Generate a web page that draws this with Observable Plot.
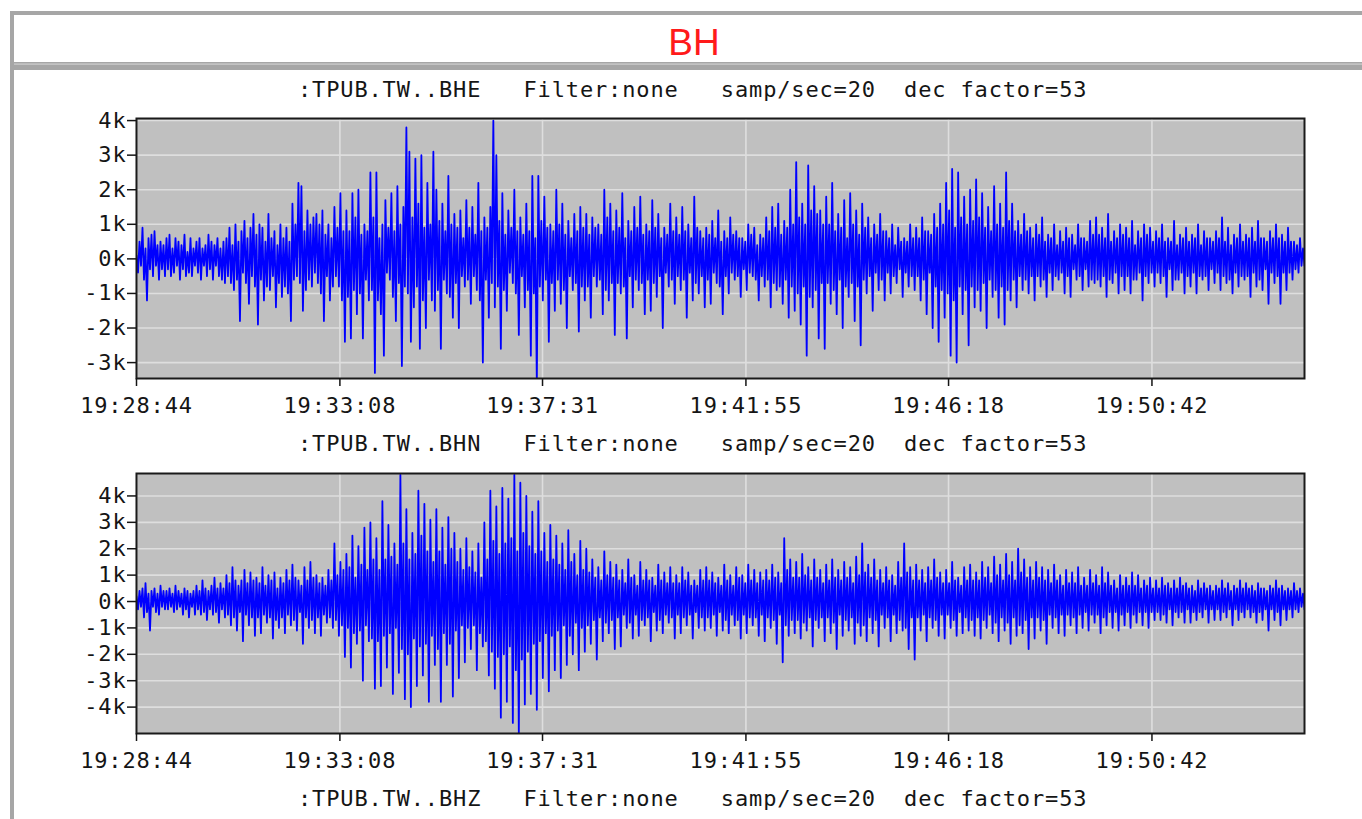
<!DOCTYPE html>
<html><head><meta charset="utf-8">
<script src="https://cdn.jsdelivr.net/npm/d3@7"></script>
<script src="https://cdn.jsdelivr.net/npm/@observablehq/plot@0.6"></script>
<style>
html,body{margin:0;padding:0;background:#fff;}
#page{position:relative;width:1362px;height:819px;overflow:hidden;background:#fff;}
#page svg{position:absolute;left:0;}
.mono{font-family:'DejaVu Sans Mono',monospace;font-size:22px;letter-spacing:0.85px;white-space:pre;fill:#151515;}
</style></head><body><div id="page"></div>
<script>
// ---- data ----
const title = "BH";
const channels = [":TPUB.TW..BHE", ":TPUB.TW..BHN", ":TPUB.TW..BHZ"];
const headerInfo = "   Filter:none   samp/sec=20  dec factor=53";
const startTime = "19:28:44";
const endTime = "19:54:00";
const timeTickLabels = ["19:28:44", "19:33:08", "19:37:31", "19:41:55", "19:46:18", "19:50:42"];
const bheTicks = [-3, -2, -1, 0, 1, 2, 3, 4];
const bhnTicks = [-4, -3, -2, -1, 0, 1, 2, 3, 4];
const bheDomain = [-3.46, 4.06];
const bhnDomain = [-5.0, 4.85];

// amplitudes in thousands of counts, evenly spaced in time
const bheValues = [
  0.1,-0.4,0.5,-0.2,0.9,-0.6,0.3,-1.2,0.6,-0.3, 0.7,-0.5,0.8,-0.2,0.4,-0.6,0.5,-0.3,0.4,-0.5,
  0.6,-0.3,0.7,-0.5,0.3,-0.4,0.6,-0.2,0.5,-0.6, 0.4,-0.3,0.7,-0.5,0.2,-0.4,0.6,-0.5,0.3,-0.2,
  0.5,-0.4,0.6,-0.6,0.3,-0.2,0.4,-0.5,0.7,-0.3, 0.5,-0.6,0.4,-0.2,0.6,-0.5,0.3,-0.6,0.5,-0.7,
  0.6,-0.5,0.9,-0.7,0.4,-0.9,1.0,-0.6,0.5,-1.8, 0.8,-0.4,1.1,-0.7,0.6,-1.3,0.9,-0.5,1.3,-0.8,
  0.7,-1.9,1.0,-0.6,0.9,-1.2,0.5,-0.8,1.3,-0.9, 0.6,-0.5,0.8,-1.4,0.4,-0.7,1.0,-1.1,0.6,-0.8,
  0.9,-1.0,0.5,-1.8,1.6,-0.6,1.0,-0.5,2.2,-0.7, 2.1,-1.5,0.8,-0.9,1.4,-0.6,1.0,-0.8,1.2,-0.4,
  1.3,-0.7,1.0,-1.0,1.4,-1.8,0.7,-0.5,1.0,-1.2, 0.6,-0.8,1.5,-0.5,0.9,-0.8,1.9,-1.2,0.8,-2.4,
  1.4,-1.1,0.8,-2.3,1.9,-0.9,1.2,-1.6,2.0,-1.0, 0.7,-2.3,1.0,-0.6,0.8,-1.2,2.5,-0.9,1.2,-3.3,
  2.5,-1.2,0.6,-1.6,1.0,-2.8,1.7,-0.4,0.9,-0.6, 1.9,-1.1,0.8,-1.8,2.1,-0.7,1.0,-3.1,1.5,-0.8,
  3.8,-1.0,3.1,-2.4,1.2,-1.4,2.9,-0.8,1.6,-2.6, 3.0,-1.2,0.9,-2.0,2.2,-0.6,1.0,-1.2,3.1,-1.5,
  2.0,-0.9,1.1,-2.6,1.6,-0.6,0.8,-1.0,2.4,-1.1, 1.0,-1.7,1.3,-0.7,0.9,-2.0,1.4,-0.5,0.6,-0.8,
  1.7,-0.6,0.9,-1.3,1.5,-0.5,0.7,-0.9,2.2,-1.2, 0.8,-3.0,1.2,-0.6,0.9,-1.7,1.5,-0.7,4.0,-1.4,
  3.0,-0.8,1.1,-2.6,1.9,-0.9,0.7,-1.5,1.4,-0.4, 0.9,-0.7,2.0,-1.0,0.8,-2.2,1.2,-0.5,0.7,-1.4,
  1.6,-0.9,0.8,-2.8,2.4,-1.0,0.6,-3.6,2.4,-0.8, 1.1,-1.2,1.8,-0.6,0.9,-2.4,1.0,-0.7,0.8,-1.5,
  2.0,-0.6,1.0,-1.3,1.6,-0.9,0.7,-2.0,1.1,-0.5, 0.6,-0.9,1.3,-0.7,0.8,-2.1,1.5,-0.8,0.9,-1.2,
  1.3,-0.8,0.7,-1.7,1.2,-0.5,0.9,-0.8,1.0,-0.6, 0.7,-1.6,2.0,-0.9,1.2,-1.2,1.6,-0.7,0.8,-2.2,
  1.4,-0.7,0.9,-1.0,1.9,-0.8,0.6,-2.3,1.1,-0.5, 0.8,-1.4,1.5,-0.6,0.9,-0.9,1.8,-0.7,0.7,-1.6,
  1.0,-0.6,0.8,-1.5,1.7,-0.7,0.9,-1.1,1.3,-0.5, 0.6,-2.0,0.9,-0.4,0.7,-0.8,1.6,-0.6,0.8,-1.3,
  1.2,-0.5,0.7,-0.9,1.5,-0.6,0.8,-1.7,1.0,-0.4, 0.6,-1.2,1.8,-0.7,0.9,-1.0,0.8,-0.5,0.6,-1.4,
  0.9,-0.6,0.7,-1.3,1.1,-0.4,0.6,-0.7,1.4,-0.8, 0.5,-1.6,0.8,-0.5,0.6,-1.0,1.2,-0.4,0.7,-0.6,
  0.8,-0.5,0.6,-1.1,0.6,-0.3,0.5,-0.9,1.0,-0.4, 0.7,-0.5,0.9,-0.6,0.4,-1.2,0.7,-0.5,0.6,-0.8,
  1.2,-0.6,0.8,-1.4,1.5,-0.7,0.9,-0.9,1.6,-0.8, 0.7,-1.3,1.1,-0.6,0.9,-1.7,2.0,-0.8,1.0,-1.5,
  2.8,-1.0,1.2,-1.9,1.6,-0.8,1.0,-2.8,2.7,-1.1, 1.4,-1.4,2.1,-0.9,1.3,-2.3,1.4,-0.7,1.0,-2.6,
  1.8,-0.7,1.0,-1.3,2.2,-0.9,0.8,-1.6,1.3,-0.6, 0.9,-2.0,1.7,-0.8,0.6,-1.1,1.9,-0.7,1.0,-1.8,
  1.4,-0.8,0.7,-2.5,1.6,-0.6,0.9,-1.0,1.2,-0.5, 0.6,-1.5,1.0,-0.4,0.7,-0.9,1.3,-0.6,0.8,-1.2,
  0.8,-0.4,0.6,-1.0,1.0,-0.5,0.4,-0.7,0.9,-0.3, 0.5,-1.1,0.6,-0.4,0.5,-0.8,1.0,-0.5,0.6,-0.9,
  0.9,-0.5,0.6,-1.2,1.2,-0.6,0.8,-1.6,0.8,-0.4, 0.7,-2.0,1.3,-0.8,0.9,-2.4,1.6,-0.9,1.0,-1.7,
  2.2,-1.0,1.4,-2.8,2.6,-1.2,0.9,-3.0,2.5,-0.8, 1.2,-1.6,1.8,-0.9,1.0,-2.5,2.0,-0.8,1.1,-1.4,
  2.3,-0.9,1.2,-1.5,1.9,-0.7,0.9,-2.0,1.5,-0.6, 0.8,-1.1,2.1,-0.9,1.0,-1.7,1.6,-0.8,0.9,-1.9,
  2.5,-0.9,1.1,-1.2,1.6,-0.6,0.8,-1.4,1.1,-0.5, 0.7,-0.9,1.3,-0.6,0.8,-1.0,0.9,-0.5,0.6,-1.2,
  1.0,-0.5,0.7,-0.8,1.2,-0.6,0.5,-1.1,0.7,-0.4, 0.6,-0.9,1.0,-0.5,0.4,-0.6,0.8,-0.4,0.5,-1.0,
  0.9,-0.5,0.6,-1.1,0.7,-0.3,0.4,-0.6,1.0,-0.5, 0.6,-0.9,0.6,-0.3,0.5,-0.8,1.1,-0.6,0.7,-0.7,
  1.2,-0.6,0.7,-0.8,0.9,-0.5,0.6,-1.1,1.3,-0.6, 0.5,-0.7,0.8,-0.4,0.6,-1.0,1.0,-0.5,0.7,-0.9,
  0.9,-0.5,0.6,-1.0,1.1,-0.6,0.4,-0.6,0.8,-0.4, 0.6,-1.2,1.0,-0.5,0.7,-0.7,0.9,-0.4,0.5,-0.8,
  0.8,-0.4,0.6,-0.7,1.0,-0.5,0.5,-1.1,0.6,-0.3, 0.5,-0.9,1.1,-0.6,0.4,-0.6,0.7,-0.4,0.6,-1.0,
  0.9,-0.5,0.5,-0.8,0.7,-0.4,0.6,-1.0,1.0,-0.5, 0.4,-0.6,0.8,-0.5,0.6,-0.9,0.6,-0.3,0.5,-0.7,
  0.8,-0.4,0.6,-0.9,1.2,-0.5,0.5,-0.7,0.9,-0.6, 0.4,-1.0,0.7,-0.4,0.6,-0.8,1.0,-0.5,0.5,-0.6,
  0.7,-0.5,0.6,-1.1,0.9,-0.4,0.5,-0.8,1.1,-0.6, 0.6,-0.9,0.6,-0.3,0.5,-1.3,0.8,-0.4,0.6,-0.7,
  1.0,-0.5,0.6,-1.3,0.7,-0.4,0.5,-0.9,0.9,-0.4, 0.5,-0.6,0.5,-0.3,0.4,-0.4,0.6,-0.2,0.3,-0.2
];
const bhnValues = [
  0.2,-0.3,0.4,-0.2,0.5,-0.6,0.7,-0.4,0.3,-1.1, 0.4,-0.2,0.5,-0.4,0.3,-0.5,0.6,-0.2,0.4,-0.3,
  0.4,-0.3,0.5,-0.2,0.3,-0.4,0.6,-0.3,0.4,-0.2, 0.3,-0.5,0.5,-0.3,0.4,-0.6,0.3,-0.2,0.4,-0.5,
  0.6,-0.3,0.4,-0.5,0.8,-0.4,0.5,-0.7,0.4,-0.3, 0.6,-0.5,0.9,-0.4,0.5,-0.8,0.7,-0.3,0.5,-0.6,
  1.0,-0.5,0.7,-0.9,1.3,-0.6,0.8,-1.1,0.6,-0.4, 0.8,-1.5,1.2,-0.5,0.7,-0.9,1.1,-0.6,0.8,-1.3,
  0.9,-0.6,0.7,-1.2,1.3,-0.5,0.6,-0.8,1.0,-0.6, 0.8,-1.4,1.1,-0.7,0.5,-1.0,0.9,-0.6,0.7,-1.2,
  1.2,-0.5,0.8,-0.9,1.4,-0.7,0.9,-1.1,0.8,-0.4, 0.6,-1.6,1.3,-0.6,0.8,-1.0,1.5,-0.7,0.9,-1.2,
  1.0,-0.6,0.7,-1.3,0.9,-0.5,0.6,-0.8,1.2,-0.6, 0.8,-1.0,2.2,-0.7,1.0,-1.3,1.5,-0.9,1.2,-2.1,
  1.8,-1.0,1.3,-2.5,2.5,-1.2,0.9,-1.6,2.1,-1.1, 1.4,-3.0,2.8,-0.9,1.2,-1.5,3.0,-1.4,1.6,-3.3,
  2.4,-1.5,1.2,-3.2,3.8,-1.3,1.6,-2.5,2.9,-1.2, 1.7,-3.5,2.2,-1.0,1.4,-2.7,4.8,-1.8,2.2,-3.7,
  3.5,-2.0,1.6,-4.0,2.6,-1.4,1.8,-3.2,4.2,-1.7, 2.5,-2.8,3.7,-1.6,1.9,-3.8,3.1,-1.3,1.5,-2.4,
  3.5,-1.8,1.9,-3.8,2.8,-1.2,1.4,-2.4,3.2,-1.6, 2.0,-3.6,2.6,-1.1,1.5,-2.9,2.0,-0.9,1.2,-2.3,
  2.4,-1.0,1.3,-1.8,1.9,-0.9,1.1,-2.6,2.2,-1.2, 0.9,-1.7,3.0,-1.5,1.6,-2.8,4.2,-1.9,2.3,-3.3,
  3.6,-2.1,1.8,-4.4,4.3,-2.0,2.2,-3.8,3.9,-1.7, 2.4,-4.6,4.8,-2.6,1.9,-5.0,4.5,-2.2,2.6,-3.9,
  4.0,-1.9,2.1,-3.5,3.4,-1.6,1.8,-4.1,3.8,-1.5, 1.9,-2.9,2.6,-1.2,1.5,-3.4,2.9,-1.3,1.6,-2.6,
  2.5,-1.1,1.4,-2.9,2.2,-0.9,1.2,-2.4,2.7,-1.3, 1.5,-2.0,1.8,-0.8,1.0,-2.6,2.3,-1.0,1.2,-1.9,
  2.0,-0.9,1.1,-1.6,1.6,-0.7,0.9,-2.2,1.3,-0.6, 0.8,-1.5,1.9,-0.8,1.0,-1.2,1.5,-0.7,0.9,-1.8,
  1.4,-0.6,0.8,-1.7,1.2,-0.5,0.7,-1.0,1.6,-0.8, 0.9,-1.4,1.0,-0.5,0.6,-1.3,1.5,-0.7,0.8,-0.9,
  1.2,-0.6,0.8,-1.5,0.9,-0.4,0.6,-1.1,1.4,-0.7, 0.8,-1.2,1.1,-0.5,0.7,-0.8,1.3,-0.6,0.7,-1.4,
  1.0,-0.5,0.7,-1.2,1.3,-0.6,0.8,-0.9,1.1,-0.5, 0.6,-1.4,0.8,-0.4,0.6,-1.0,1.2,-0.6,0.8,-1.1,
  1.3,-0.6,0.8,-1.0,1.1,-0.5,0.7,-1.3,0.9,-0.4, 0.6,-1.1,1.4,-0.7,0.8,-1.2,1.0,-0.5,0.6,-0.9,
  1.3,-0.7,0.9,-1.4,1.0,-0.5,0.7,-1.2,1.4,-0.6, 0.8,-0.9,1.2,-0.6,0.7,-1.3,1.1,-0.5,0.8,-1.5,
  1.2,-0.6,0.8,-1.0,1.4,-0.7,0.9,-1.6,1.1,-0.5, 0.7,-2.3,2.4,-0.9,1.2,-1.3,1.6,-0.7,0.9,-1.2,
  1.5,-0.7,0.9,-1.4,1.8,-0.8,1.0,-1.1,1.3,-0.6, 0.8,-1.7,1.6,-0.7,0.9,-1.0,1.2,-0.6,0.7,-1.5,
  1.4,-0.6,0.8,-1.2,1.6,-0.8,0.9,-1.8,1.2,-0.5, 0.8,-1.3,1.5,-0.7,0.9,-1.1,1.3,-0.6,0.7,-1.6,
  1.7,-0.8,1.0,-1.3,2.2,-0.9,1.1,-1.5,1.4,-0.6, 0.9,-1.2,1.6,-0.7,0.8,-1.7,1.2,-0.5,0.7,-1.0,
  1.3,-0.6,0.8,-1.5,1.0,-0.5,0.6,-1.2,1.5,-0.7, 0.9,-1.1,2.2,-1.0,1.1,-1.8,1.3,-0.6,0.8,-2.2,
  1.4,-0.6,0.8,-1.1,1.2,-0.5,0.7,-1.5,1.3,-0.6, 0.8,-1.0,1.6,-0.7,0.9,-1.3,1.1,-0.5,0.7,-1.4,
  1.2,-0.5,0.7,-1.0,1.5,-0.7,0.8,-1.3,0.9,-0.4, 0.6,-1.2,1.3,-0.6,0.8,-1.1,1.4,-0.7,0.8,-1.3,
  1.1,-0.6,0.8,-1.4,1.5,-0.7,0.9,-1.0,1.3,-0.5, 0.7,-1.2,1.7,-0.8,1.0,-1.5,1.4,-0.6,0.8,-1.1,
  1.8,-0.8,1.0,-1.6,1.5,-0.6,0.8,-1.3,2.0,-0.9, 1.1,-1.2,1.6,-0.7,0.9,-1.8,1.3,-0.6,0.8,-1.4,
  1.5,-0.6,0.9,-1.1,1.3,-0.7,0.8,-1.6,1.2,-0.5, 0.7,-1.0,1.4,-0.6,0.8,-1.2,1.0,-0.5,0.6,-1.3,
  1.2,-0.5,0.7,-0.9,1.1,-0.6,0.7,-1.2,1.3,-0.5, 0.6,-1.0,0.9,-0.4,0.6,-1.1,1.2,-0.5,0.7,-0.8,
  1.0,-0.5,0.6,-1.2,1.3,-0.6,0.7,-0.9,1.1,-0.4, 0.6,-1.0,0.8,-0.4,0.5,-1.1,1.0,-0.5,0.6,-0.9,
  0.9,-0.4,0.6,-1.0,1.1,-0.5,0.6,-0.8,1.0,-0.4, 0.5,-0.9,0.8,-0.4,0.6,-1.0,0.9,-0.4,0.5,-0.7,
  0.8,-0.4,0.5,-0.7,0.9,-0.5,0.6,-0.8,0.7,-0.3, 0.5,-0.9,0.8,-0.4,0.5,-0.6,0.9,-0.4,0.6,-0.8,
  0.7,-0.3,0.5,-0.8,0.6,-0.4,0.4,-0.7,0.8,-0.4, 0.5,-0.6,0.7,-0.3,0.5,-0.8,0.6,-0.3,0.4,-0.7,
  0.6,-0.3,0.5,-0.7,0.8,-0.4,0.5,-0.6,0.7,-0.3, 0.4,-0.9,0.6,-0.3,0.5,-0.7,0.8,-0.4,0.5,-0.6,
  0.7,-0.3,0.5,-0.6,0.6,-0.4,0.4,-0.8,0.7,-0.4, 0.5,-0.7,0.5,-0.3,0.4,-1.1,0.6,-0.3,0.5,-0.7,
  0.8,-0.4,0.5,-0.9,0.6,-0.3,0.4,-0.7,0.5,-0.3, 0.4,-0.6,0.7,-0.3,0.4,-0.4,0.5,-0.2,0.3,-0.3
];

// ---- drawing ----
const page = document.getElementById("page");
const parseT = d3.utcParse("%H:%M:%S");
const fmtT = d3.utcFormat("%H:%M:%S");

// frame, title and channel headers
const bg = d3.create("svg").attr("width", 1362).attr("height", 819).style("top", "0px");
bg.append("rect").attr("x", 10).attr("y", 11).attr("width", 1400).attr("height", 4).attr("fill", "#a6a6a6");
bg.append("rect").attr("x", 10).attr("y", 11).attr("width", 4).attr("height", 900).attr("fill", "#a6a6a6");
bg.append("rect").attr("x", 10).attr("y", 62).attr("width", 1400).attr("height", 8).attr("fill", "#a6a6a6");
bg.append("rect").attr("x", 14).attr("y", 63.5).attr("width", 1400).attr("height", 1.2).attr("fill", "#cfcfcf");
bg.append("text").attr("x", 694).attr("y", 54.5).attr("text-anchor", "middle")
  .attr("font-family", "'Liberation Sans', Arial, sans-serif").attr("font-size", 37)
  .attr("fill", "#ff1a1a").text(title);
const headerY = [97, 451, 806];
channels.forEach((c, i) => {
  bg.append("text").attr("class", "mono").attr("x", 298).attr("y", headerY[i]).text(c + headerInfo);
});
page.appendChild(bg.node());

function panel(values, ticks, domain, top) {
  const t0 = parseT(startTime), t1 = parseT(endTime);
  const dt = (t1 - t0) / (values.length - 1);
  const data = values.map((v, i) => ({t: new Date(+t0 + i * dt), v}));
  const tickDates = timeTickLabels.map(parseT);
  const svg = Plot.plot({
    width: 1362, height: 320,
    marginTop: 18, marginLeft: 136, marginRight: 58, marginBottom: 42,
    style: {background: "transparent", overflow: "visible", fontFamily: "'DejaVu Sans Mono', monospace",
            fontSize: "22px", letterSpacing: "0.85px", color: "#151515"},
    x: {type: "utc", domain: [t0, t1], label: null},
    y: {domain, label: null},
    marks: [
      Plot.frame({fill: "#c0c0c0"}),
      Plot.gridX(tickDates, {stroke: "#dedede", strokeOpacity: 1, strokeWidth: 1.6}),
      Plot.gridY(ticks, {stroke: "#dedede", strokeOpacity: 1, strokeWidth: 1.6}),
      Plot.line(data, {x: "t", y: "v", stroke: "#0000ff", strokeWidth: 1.8, curve: "linear", clip: true}),
      Plot.frame({stroke: "#1a1a1a", strokeWidth: 2}),
      Plot.axisX(tickDates, {tickSize: 8, tickPadding: 11, tickFormat: fmtT, strokeWidth: 1.5}),
      Plot.axisY(ticks, {tickSize: 9, tickPadding: 1, tickFormat: d => d + "k", strokeWidth: 1.5})
    ]
  });
  svg.style.position = "absolute";
  svg.style.top = top + "px";
  svg.style.left = "0px";
  page.appendChild(svg);
}
panel(bheValues, bheTicks, bheDomain, 100);
panel(bhnValues, bhnTicks, bhnDomain, 455);
</script></body></html>
